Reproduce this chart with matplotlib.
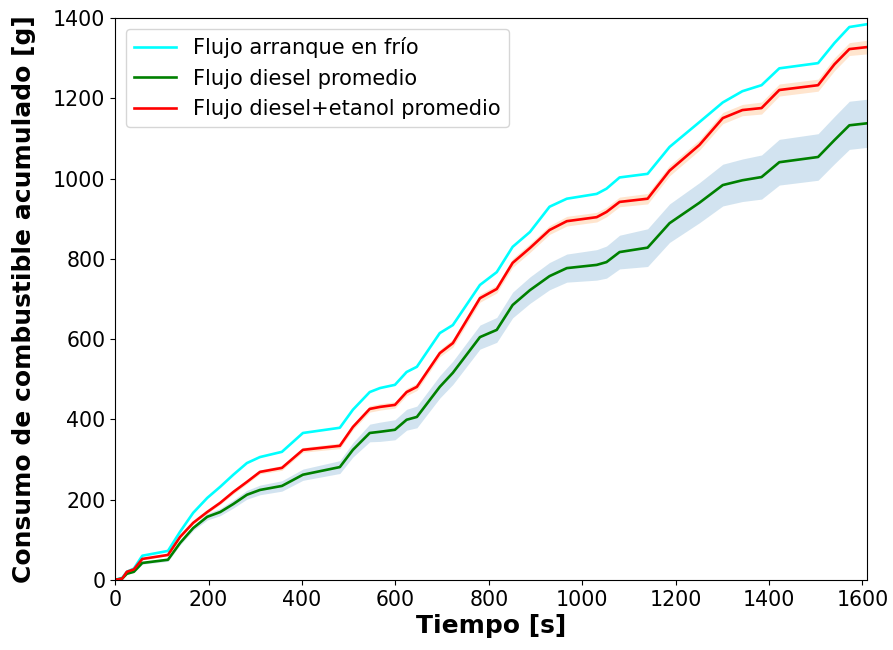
import numpy as np
import matplotlib.pyplot as plt

# values
tiempo = np.array([0, 15, 25, 40, 58, 113, 139, 167, 197, 225, 253, 282, 310,
                   357, 402, 481, 509, 545, 567, 599, 624, 646, 695, 723, 781,
                   817, 851, 888, 930, 967, 1031, 1052, 1080, 1140, 1187, 1251,
                   1301, 1343, 1384, 1422, 1505, 1540, 1572, 1610])

frio = np.array([0, 5, 20, 28, 60, 72, 120, 167, 204, 232, 262, 291, 306,
                 319, 366, 379, 424, 468, 478, 486, 518, 531, 615, 635, 735,
                 767, 830, 867, 930, 950, 962, 975, 1003, 1012, 1079, 1141,
                 1190, 1218, 1233, 1275, 1288, 1338, 1378, 1385])

diesel = np.array([0, 3, 15, 20, 42, 50, 92, 129, 157, 169, 189, 212, 224,
                   234, 262, 281, 324, 366, 369, 374, 399, 406, 481, 516, 605,
                   623, 685, 722, 757, 777, 785, 792, 817, 828, 889, 940,
                   984, 996, 1004, 1041, 1054, 1096, 1133, 1138])

diesel_std = np.array([0, 0, 1, 2, 3, 4, 5, 6, 8, 9, 10, 11, 12,
                       13, 14, 16, 18, 22, 24, 25, 26, 27, 28, 29, 30,
                       31, 32, 33, 34, 35, 38, 40, 42, 47, 48, 50,
                       52, 53, 55, 57, 58, 59, 60, 60])

etanol = np.array([0, 3, 20, 26, 52, 62, 107, 142, 169, 192, 219, 244, 269,
                   279, 324, 334, 381, 426, 431, 436, 468, 481, 565, 590, 702,
                   725, 790, 827, 872, 894, 904, 917, 942, 950, 1020, 1084,
                   1151, 1171, 1176, 1221, 1233, 1285, 1323, 1328])

etanol_std = np.array([0, 0, 1, 1, 2, 2, 3, 3, 4, 4, 5, 5, 5,
                       6, 6, 7, 7, 8, 8, 8, 9, 9, 9, 10, 10,
                       10, 11, 11, 11, 12, 12, 12, 12, 13, 13, 13,
                       14, 14, 15, 15, 15, 16, 16, 17])


def main():
    fig = plt.figure(figsize=(8.93, 6.5), dpi=100)
    ax = fig.add_axes([0.129, 0.108, 0.842, 0.864])

    ax.fill_between(tiempo, diesel - diesel_std, diesel + diesel_std,
                    color="C0", alpha=0.2, linewidth=0)
    ax.fill_between(tiempo, etanol - etanol_std, etanol + etanol_std,
                    color="C1", alpha=0.2, linewidth=0)

    ax.plot(tiempo, frio, color="cyan", lw=1.9, label="Flujo arranque en frío")
    ax.plot(tiempo, diesel, color="green", lw=1.9, label="Flujo diesel promedio")
    ax.plot(tiempo, etanol, color="red", lw=1.9,
            label="Flujo diesel+etanol promedio")

    ax.set_xlim(0, 1610)
    ax.set_ylim(0, 1400)
    ax.tick_params(labelsize=14.8)
    ax.set_xlabel("Tiempo [s]", fontsize=18, fontweight="bold", labelpad=3)
    ax.set_ylabel("Consumo de combustible acumulado [g]", fontsize=18,
                  fontweight="bold", labelpad=12)
    ax.legend(loc="upper left", fontsize=15.1)

    fig.savefig("out.png")
    plt.close(fig)


if __name__ == "__main__":
    main()
